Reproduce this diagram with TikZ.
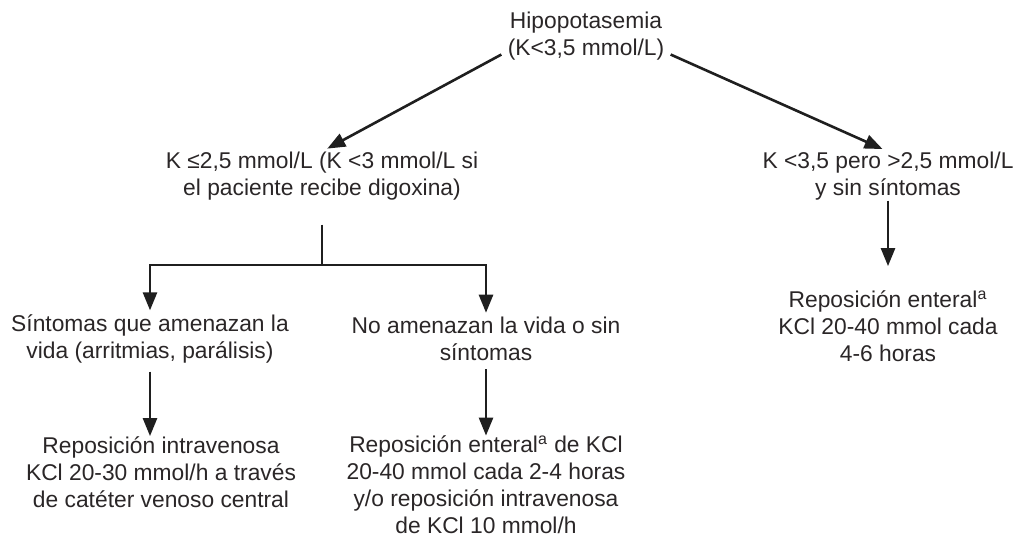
\documentclass[tikz,border=0pt]{standalone}
\usepackage{fontspec}
\setmainfont{Liberation Sans}
\usetikzlibrary{arrows.meta}
\definecolor{txtgray}{HTML}{2A2627}
\begin{document}
\begin{tikzpicture}[x=0.5pt,y=-0.5pt,
    every node/.style={align=center,text=txtgray,inner sep=0pt,font=\fontsize{11.4}{13.5}\selectfont},
    link/.style={line width=1.3pt,color=black!88},
    arr/.style={link,-{Triangle[width=7pt,length=9pt]}}]
    \useasboundingbox (0,0) rectangle (1020,538);

    \node(hipo) at (586,36){Hipopotasemia\\(K<3,5 mmol/L)};

    \node(low) at (322,176){K ≤2,5 mmol/L (K <3 mmol/L si\\el paciente recibe digoxina)};
    \node(mid) at (888,176){K <3,5 pero >2,5 mmol/L\\y sin síntomas};

    \node(sint) at (150,339){Síntomas que amenazan la\\vida (arritmias, parálisis)};
    \node(noam) at (486,339){No amenazan la vida o sin\\síntomas};
    \node(entr) at (888,326){Reposición enteral\textsuperscript{a}\\KCl 20-40 mmol cada\\4-6 horas};

    \node(ivr) at (161,472){Reposición intravenosa\\KCl 20-30 mmol/h a través\\de catéter venoso central};
    \node(ent) at (486,485){Reposición enteral\textsuperscript{a} de KCl\\20-40 mmol cada 2-4 horas\\y/o reposición intravenosa\\de KCl 10 mmol/h};

    \coordinate(split) at (322,265);

    \draw[arr,shorten >=3pt] ([shift={(-3pt,3pt)}]hipo.south west) -- (low.north);
    \draw[arr,shorten >=3pt] ([shift={(3pt,3pt)}]hipo.south east) -- (mid.north);

    \draw[link,shorten <=12pt] (low.south) -- (split);
    \draw[arr,shorten >=2pt] (split) -| (sint.north);
    \draw[arr,shorten >=2pt] (split) -| (noam.north);

    \draw[arr,shorten <=4pt] (sint.south) -- (ivr.north -| sint.south);
    \draw[arr,shorten <=4pt] (noam.south) -- (ent.north);
    \draw[arr,shorten >=12pt] (mid.south) -- (entr.north);

  \end{tikzpicture}
\end{document}
